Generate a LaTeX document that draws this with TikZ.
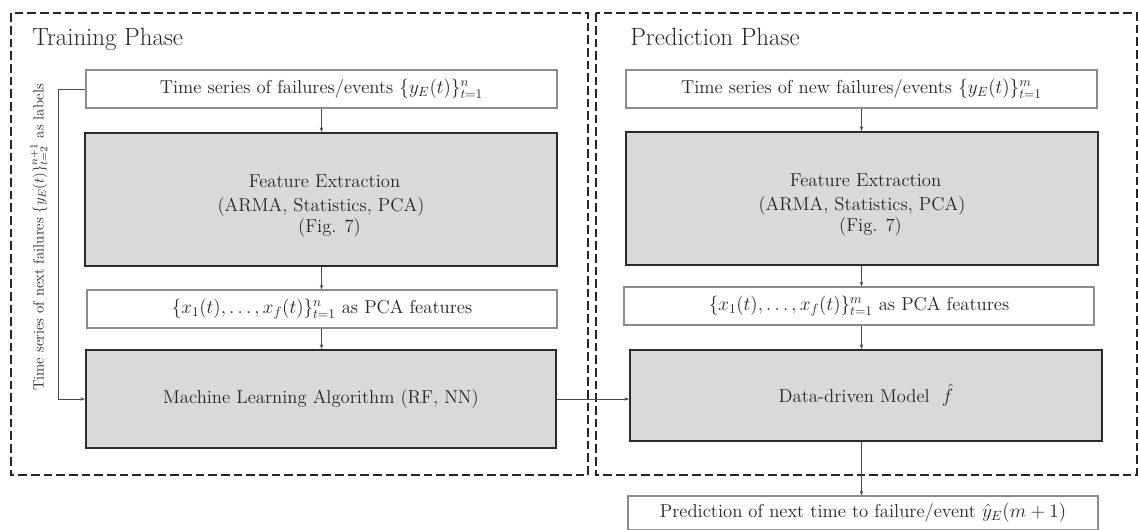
\documentclass[tikz,border=0pt]{standalone}
\usetikzlibrary{arrows.meta}
\definecolor{boxgray}{HTML}{D9D9D9}
\definecolor{framegray}{HTML}{8C8C8C}
\definecolor{edgedark}{HTML}{2B2B2B}
\definecolor{linkgray}{HTML}{4A4A4A}
\definecolor{inkgray}{HTML}{262626}
\begin{document}
\begin{tikzpicture}[x=0.75pt,y=-0.75pt,
  phase/.style={draw=black!85, line width=1.5pt, dash pattern=on 6.5pt off 3pt},
  phasetitle/.style={anchor=base west, inner sep=0pt, text=inkgray, font=\fontsize{18.7}{22}\selectfont},
  databox/.style={draw=framegray, line width=0.9pt, fill=white, inner sep=0pt,
    text=inkgray, font=\fontsize{14}{17}\selectfont, minimum height=38*0.75pt},
  procbox/.style={draw=edgedark, line width=1.5pt, fill=boxgray, inner sep=0pt,
    text=inkgray, font=\fontsize{14}{17}\selectfont, align=center},
  boxline/.style={anchor=base, text=inkgray, font=\fontsize{14}{17}\selectfont, inner sep=0pt},
  link/.style={draw=linkgray, line width=0.7pt},
  flow/.style={link, -{Stealth[length=3.5pt,width=2.6pt]}}
]
\useasboundingbox (0,0) rectangle (1138,530);

% phase frames
\draw[phase] (11,13.5) rectangle (588,475);
\draw[phase] (596,13.5) rectangle (1137,475);
\node[phasetitle] (ttrain) at (32,45.5) {Training Phase};
\node[phasetitle] (tpred) at (630,45.5) {Prediction Phase};

% training column
\node[databox, minimum width=471*0.75pt] (tl) at (321.5,89)
  {Time series of failures/events $\{y_E(t)\}_{t=1}^{n}$};
\node[procbox, minimum width=472*0.75pt, minimum height=133*0.75pt] (fl) at (321,199.5) {};
\node[boxline] (fl1) at (324.5,187.7) {Feature Extraction};
\node[boxline] (fl2) at (321,211.7) {(ARMA, Statistics, PCA)};
\node[boxline] (fl3) at (329.5,233) {(Fig. 7)};
\node[databox, minimum width=470*0.75pt] (pl) at (322,309)
  {$\{x_1(t),\ldots,x_f(t)\}_{t=1}^{n}$ as PCA features};
\node[procbox, minimum width=470*0.75pt, minimum height=98*0.75pt] (ml) at (321,399)
  {Machine Learning Algorithm (RF, NN)};

% prediction column
\node[databox, minimum width=471*0.75pt] (tr) at (861.5,89)
  {Time series of new failures/events $\{y_E(t)\}_{t=1}^{m}$};
\node[procbox, minimum width=472*0.75pt, minimum height=133*0.75pt] (fr) at (862,198.5) {};
\node[boxline] (fr1) at (865.5,186.7) {Feature Extraction};
\node[boxline] (fr2) at (862,210.7) {(ARMA, Statistics, PCA)};
\node[boxline] (fr3) at (870.5,232) {(Fig. 7)};
\node[databox, minimum width=470*0.75pt] (pr) at (859,306)
  {$\{x_1(t),\ldots,x_f(t)\}_{t=1}^{m}$ as PCA features};
\node[procbox, minimum width=472*0.75pt, minimum height=91*0.75pt] (dm) at (866,395.5)
  {Data-driven Model~~$\hat{f}$};
\node[databox, minimum width=470*0.75pt, minimum height=34*0.75pt] (pd) at (863,513)
  {Prediction of next time to failure/event $\hat{y}_E(m+1)$};

% labels fed back as targets
\node[rotate=90, text=inkgray, font=\fontsize{11.2}{14}\selectfont, inner sep=0pt] (lab) at (39,237.5)
  {Time series of next failures $\{y_E(t)\}_{t=2}^{n+1}$ as labels};
\coordinate (fb) at (58,89);

% connectors
\draw[flow] (tl.south) -- (tl.south |- fl.north);
\draw[flow] (tl.south |- fl.south) -- (tl.south |- pl.north);
\draw[flow] (tl.south |- pl.south) -- (tl.south |- ml.north);
\draw[flow] (tl.west) -- (fb) |- (ml.west);

\draw[flow] (tr.south) -- (tr.south |- fr.north);
\draw[flow] (tr.south |- fr.south) -- (tr.south |- pr.north);
\draw[flow] (tr.south |- pr.south) -- (tr.south |- dm.north);
\draw[flow] (ml.east) -- (ml.east -| dm.west);
\draw[flow] (tr.south |- dm.south) -- (tr.south |- pd.north);
\end{tikzpicture}
\end{document}
